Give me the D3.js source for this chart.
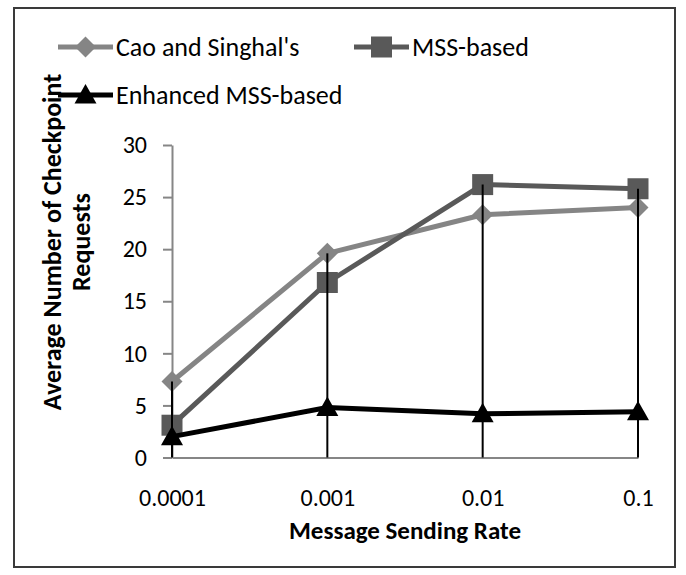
<!DOCTYPE html>
<html>
<head>
<meta charset="utf-8">
<script src="https://cdn.jsdelivr.net/npm/d3@7"></script>
<style>
  html, body { margin: 0; padding: 0; background: #fff; }
  svg { display: block; }
  text { font-family: Carlito, Calibri, Lato, "Open Sans", sans-serif; fill: #000; }
</style>
</head>
<body>
<svg id="chart" width="686" height="575"></svg>
<script>
// Message sending rates (category axis)
const rates = ["0.0001", "0.001", "0.01", "0.1"];

// Average number of checkpoint requests per scheme
const caoSinghal = [7.3, 19.6, 23.3, 24.0];
const mssBased = [3.1, 16.8, 26.2, 25.8];
const enhancedMss = [2.0, 4.8, 4.2, 4.4];

const yTicks = [0, 5, 10, 15, 20, 25, 30];

const seriesNames = ["Cao and Singhal's", "MSS-based", "Enhanced MSS-based"];

const series = [
  { name: seriesNames[0], values: caoSinghal, color: "#858585", marker: "diamond" },
  { name: seriesNames[1], values: mssBased, color: "#595959", marker: "square" },
  { name: seriesNames[2], values: enhancedMss, color: "#000000", marker: "triangle" }
];

const W = 686, H = 575;
const plot = { left: 172, right: 638, top: 145, bottom: 457.5 };
const FONT = "Carlito, Calibri, Lato, sans-serif";

const svg = d3.select("#chart");

svg.append("rect").attr("width", W).attr("height", H).attr("fill", "#fff");

// chart area border
svg.append("rect")
  .attr("x", 14).attr("y", 8).attr("width", 661).attr("height", 559)
  .attr("fill", "none").attr("stroke", "#3a3a3a").attr("stroke-width", 2);

const x = d3.scalePoint().domain(rates).range([plot.left, plot.right]);
const y = d3.scaleLinear().domain([0, 30]).range([plot.bottom, plot.top]);

// y axis
const yAxis = svg.append("g")
  .attr("transform", `translate(${plot.left},0)`)
  .call(d3.axisLeft(y).tickValues(yTicks).tickSize(9).tickPadding(16).tickSizeOuter(0));
yAxis.select(".domain").attr("stroke", "#868686").attr("stroke-width", 2);
yAxis.selectAll(".tick line").attr("stroke", "#868686").attr("stroke-width", 2);
yAxis.selectAll(".tick text").attr("font-size", 24).attr("fill", "#000")
  .style("font-family", FONT);

// x axis
const xAxis = svg.append("g")
  .attr("transform", `translate(0,${plot.bottom})`)
  .call(d3.axisBottom(x).tickSize(0).tickPadding(31).tickSizeOuter(0));
xAxis.select(".domain").attr("stroke", "#868686").attr("stroke-width", 2);
xAxis.selectAll(".tick text").attr("font-size", 24).attr("fill", "#000")
  .style("font-family", FONT);

// axis titles
svg.append("text")
  .attr("x", (plot.left + plot.right) / 2).attr("y", 539)
  .attr("text-anchor", "middle").attr("font-size", 25).attr("font-weight", "bold")
  .text("Message Sending Rate");

const yTitle = svg.append("g").attr("transform", "translate(0,242) rotate(-90)");
yTitle.append("text").attr("x", 0).attr("y", 61)
  .attr("text-anchor", "middle").attr("font-size", 26).attr("font-weight", "bold")
  .text("Average Number of Checkpoint");
yTitle.append("text").attr("x", 0).attr("y", 90)
  .attr("text-anchor", "middle").attr("font-size", 26).attr("font-weight", "bold")
  .text("Requests");

function markerPath(type) {
  if (type === "diamond") return "M0,-10.5L10.5,0L0,10.5L-10.5,0Z";
  if (type === "square") return "M-10.5,-10.5H10.5V10.5H-10.5Z";
  return "M0,-11L11,8.5L-11,8.5Z";
}

const line = d3.line().x((d, i) => x(rates[i])).y(d => y(d));

// series lines and markers
series.forEach(s => {
  svg.append("path")
    .datum(s.values)
    .attr("d", line)
    .attr("fill", "none").attr("stroke", s.color).attr("stroke-width", 5)
    .attr("stroke-linejoin", "round");
  svg.append("g").selectAll("path")
    .data(s.values)
    .join("path")
    .attr("transform", (d, i) => `translate(${x(rates[i])},${y(d)})`)
    .attr("d", markerPath(s.marker))
    .attr("fill", s.color);
});

// drop lines from the highest value at each rate to the axis
svg.append("g").selectAll("line")
  .data(rates)
  .join("line")
  .attr("x1", d => x(d)).attr("x2", d => x(d))
  .attr("y1", (d, i) => y(d3.max(series, s => s.values[i])))
  .attr("y2", y(0))
  .attr("stroke", "#000").attr("stroke-width", 2);

// legend
const legendItems = [
  { s: series[0], x0: 58, y0: 47 },
  { s: series[1], x0: 354, y0: 47 },
  { s: series[2], x0: 58, y0: 95 }
];
const lg = svg.append("g");
legendItems.forEach(it => {
  lg.append("line")
    .attr("x1", it.x0).attr("x2", it.x0 + 55)
    .attr("y1", it.y0).attr("y2", it.y0)
    .attr("stroke", it.s.color).attr("stroke-width", 5);
  lg.append("path")
    .attr("transform", `translate(${it.x0 + 27.5},${it.y0})`)
    .attr("d", markerPath(it.s.marker))
    .attr("fill", it.s.color);
  lg.append("text")
    .attr("x", it.x0 + 58).attr("y", it.y0).attr("dy", "0.35em")
    .attr("font-size", 26)
    .text(it.s.name);
});
</script>
</body>
</html>
